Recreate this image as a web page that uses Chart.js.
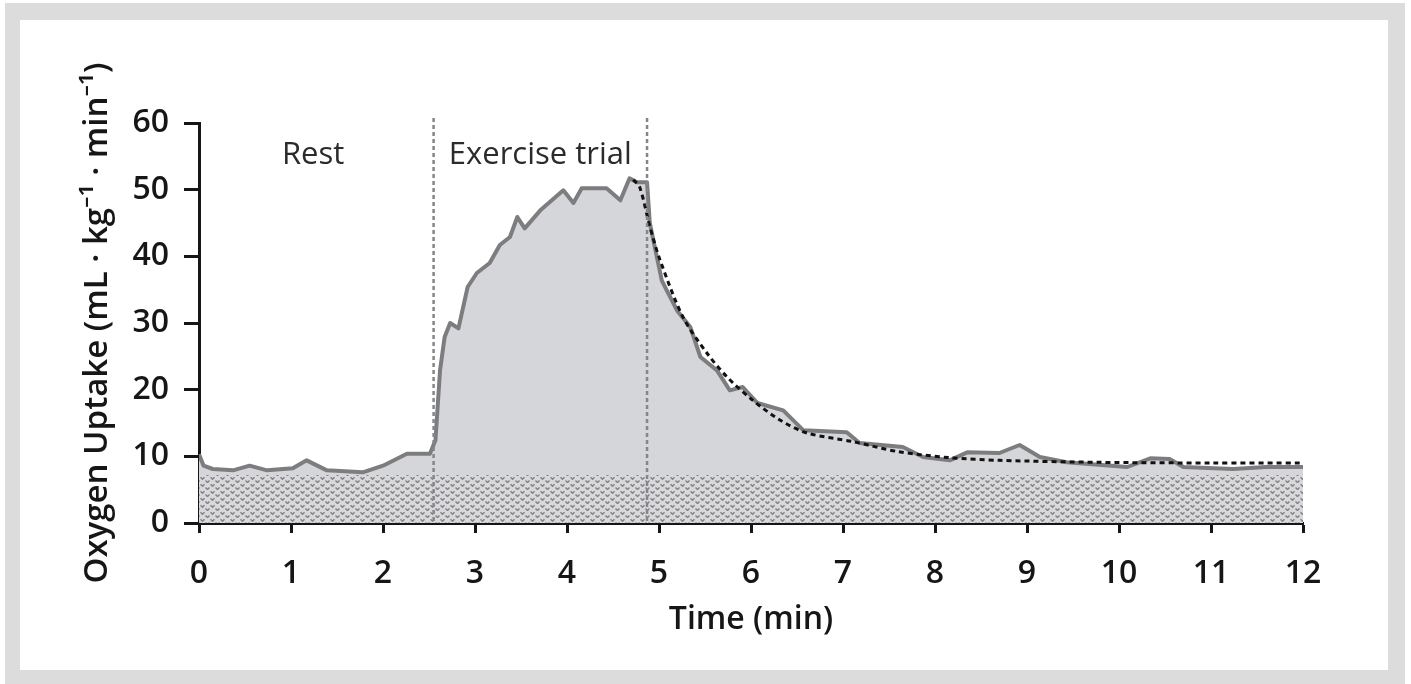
<!DOCTYPE html>
<html>
<head>
<meta charset="utf-8">
<script src="https://cdn.jsdelivr.net/npm/chart.js@4.4.1/dist/chart.umd.min.js"></script>
<style>
    html, body { margin: 0; padding: 0; background: #fff; }
    #frame { position: absolute; left: 5px; top: 3px; width: 1400px; height: 681px; background: #dcdcdc; }
    #inner { position: absolute; left: 15px; top: 17px; width: 1368px; height: 650px; background: #fff; }
    #wrap { position: absolute; left: 0; top: 0; width: 1411px; height: 684px; }
</style>
</head>
<body>
<div id="frame"><div id="inner"></div></div>
<div id="wrap"><canvas id="vo2-chart"></canvas></div>
<script>
'use strict';

// measured uptake trace (time in min, VO2 in mL/kg/min)
const timeMin = [0.00, 0.05, 0.15, 0.37, 0.55, 0.74, 1.02, 1.17, 1.39, 1.78, 2.00, 2.26, 2.51,
    2.57, 2.62, 2.67, 2.73, 2.82, 2.92, 3.02, 3.16, 3.27, 3.38, 3.46, 3.54, 3.71, 3.96, 4.07,
    4.16, 4.43, 4.58, 4.68, 4.76, 4.87, 4.90, 4.96, 5.03, 5.08, 5.20, 5.34, 5.45, 5.63, 5.77,
    5.91, 6.07, 6.35, 6.57, 7.04, 7.18, 7.65, 7.87, 8.16, 8.35, 8.70, 8.92, 9.14, 9.43, 10.09,
    10.34, 10.55, 10.70, 11.24, 11.60, 12.00];
const uptake = [10.3, 8.6, 8.1, 7.9, 8.6, 7.9, 8.2, 9.4, 7.9, 7.6, 8.6, 10.4, 10.4,
    12.4, 22.9, 27.9, 30.0, 29.2, 35.4, 37.5, 39.0, 41.7, 42.9, 45.9, 44.2, 46.9, 49.9, 48.0,
    50.2, 50.2, 48.4, 51.7, 51.1, 51.1, 45.0, 41.0, 36.4, 35.0, 31.8, 29.4, 24.9, 22.9, 19.9,
    20.4, 18.0, 16.9, 13.9, 13.6, 12.0, 11.4, 9.9, 9.4, 10.6, 10.5, 11.7, 9.9, 9.1, 8.4,
    9.7, 9.6, 8.4, 8.1, 8.4, 8.4];

// recovery curve fit (dashed)
const fitTime = [4.72, 4.79, 4.90, 5.01, 5.26, 5.52, 5.74, 6.02, 6.32, 6.61, 7.11, 7.60, 8.16, 8.70, 9.80, 11.00, 12.00];
const fitUptake = [51.5, 50.4, 44.5, 39.5, 30.9, 25.5, 21.9, 18.4, 15.4, 13.5, 12.2, 10.7, 9.8, 9.4, 9.1, 9.0, 9.0];

// resting baseline band
const baselineTime = [0, 12];
const baselineUptake = [7.2, 7.2];

// phase boundaries and labels
const phaseBounds = [2.55, 4.87];
const phaseLabels = ['Rest', 'Exercise trial'];
const phaseLabelX = [1.24, 3.71];
const phaseLabelY = 55.2;

const xTicks = [0, 1, 2, 3, 4, 5, 6, 7, 8, 9, 10, 11, 12];
const yTicks = [0, 10, 20, 30, 40, 50, 60];

const FONT = '"Open Sans", "Noto Sans", sans-serif';

function toPoints(xs, ys) {
    return xs.map((x, i) => ({ x: x, y: ys[i] }));
}

function makeBandPattern() {
    const tile = document.createElement('canvas');
    tile.width = 10;
    tile.height = 7;
    const c = tile.getContext('2d');
    c.fillStyle = '#d9d9dc';
    c.fillRect(0, 0, 10, 7);
    c.strokeStyle = '#838387';
    c.lineWidth = 1.5;
    c.beginPath();
    c.moveTo(0.5, 1.2); c.lineTo(2.5, 3.2); c.lineTo(4.5, 1.2);
    c.moveTo(5.5, 4.5); c.lineTo(7.5, 6.5); c.lineTo(9.5, 4.5);
    c.stroke();
    return c.createPattern(tile, 'repeat');
}

const phasePlugin = {
    id: 'phases',
    afterDatasetsDraw(chart) {
        const ctx = chart.ctx;
        const x = chart.scales.x;
        const y = chart.scales.y;
        const area = chart.chartArea;
        ctx.save();
        ctx.strokeStyle = '#85858a';
        ctx.lineWidth = 2.5;
        ctx.setLineDash([4, 3]);
        phaseBounds.forEach(t => {
            const px = x.getPixelForValue(t);
            ctx.beginPath();
            ctx.moveTo(px, area.top - 5);
            ctx.lineTo(px, area.bottom);
            ctx.stroke();
        });
        ctx.setLineDash([]);
        ctx.fillStyle = '#2b2b2b';
        ctx.font = '400 31px ' + FONT;
        ctx.textAlign = 'center';
        ctx.textBaseline = 'middle';
        phaseLabels.forEach((label, i) => {
            ctx.fillText(label, x.getPixelForValue(phaseLabelX[i]), y.getPixelForValue(phaseLabelY));
        });
        ctx.restore();
    }
};

const tickFont = { family: FONT, size: 32, weight: '600' };

new Chart(document.getElementById('vo2-chart').getContext('2d'), {
    type: 'line',
    data: {
        datasets: [
            {
                label: 'Fit',
                data: toPoints(fitTime, fitUptake),
                borderColor: '#111',
                borderWidth: 3,
                borderDash: [5, 4],
                pointRadius: 0,
                fill: false,
                tension: 0.3,
                order: 1
            },
            {
                label: 'Baseline',
                data: toPoints(baselineTime, baselineUptake),
                borderWidth: 0,
                pointRadius: 0,
                backgroundColor: makeBandPattern(),
                fill: 'origin',
                order: 2
            },
            {
                label: 'VO2',
                data: toPoints(timeMin, uptake),
                borderColor: '#7d7d80',
                borderWidth: 4,
                borderJoinStyle: 'round',
                pointRadius: 0,
                backgroundColor: '#d5d6da',
                fill: 'origin',
                tension: 0,
                order: 3
            }
        ]
    },
    options: {
        responsive: true,
        maintainAspectRatio: false,
        animation: false,
        layout: { padding: { left: 78, top: 123, right: 108, bottom: 45 } },
        plugins: { legend: { display: false }, tooltip: { enabled: false } },
        scales: {
            x: {
                type: 'linear',
                min: 0,
                max: 12,
                afterBuildTicks: scale => { scale.ticks = xTicks.map(v => ({ value: v })); },
                afterFit: scale => { scale.height = 116; },
                ticks: { font: tickFont, color: '#161616', padding: 22, maxRotation: 0 },
                grid: { drawOnChartArea: false, tickLength: 10, tickWidth: 3, tickColor: '#161616' },
                border: { color: '#161616', width: 3 },
                title: { display: true, text: 'Time (min)', font: { family: FONT, size: 32, weight: '600' }, color: '#161616', padding: 0 }
            },
            y: {
                min: 0,
                max: 60,
                afterBuildTicks: scale => { scale.ticks = yTicks.map(v => ({ value: v })); },
                afterFit: scale => { scale.width = 121; },
                ticks: { font: tickFont, color: '#161616', padding: 15 },
                grid: { drawOnChartArea: false, tickLength: 15, tickWidth: 3, tickColor: '#161616' },
                border: { color: '#161616', width: 3 },
                title: { display: true, text: 'Oxygen Uptake (mL · kg⁻¹ · min⁻¹)', font: { family: FONT, size: 33, weight: '600' }, color: '#161616', padding: 0 }
            }
        }
    },
    plugins: [phasePlugin]
});
</script>
</body>
</html>
